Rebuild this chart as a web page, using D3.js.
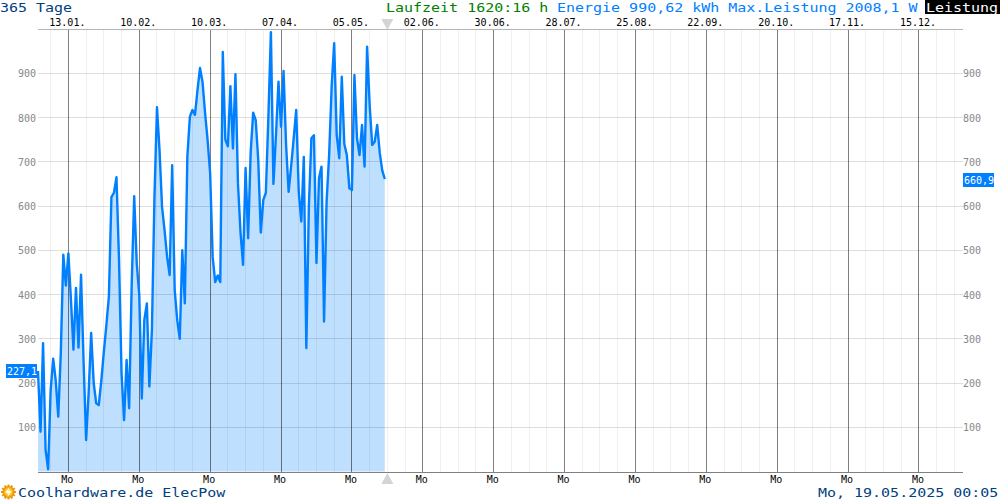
<!DOCTYPE html>
<html><head><meta charset="utf-8">
<script src="https://cdnjs.cloudflare.com/ajax/libs/d3/7.8.5/d3.min.js"></script>
<style>html,body{margin:0;padding:0;background:#fff}svg{display:block}text{font-family:"DejaVu Sans Mono",monospace}</style>
</head><body><svg id="c" width="1000" height="500"></svg>
<script>
const values=[227,90,290,49,5,184,255,206,124,267,490,420,493,390,275,415,280,445,250,71,177,313,200,154,150,205,270,330,395,
620,630,665,480,222,116,252,143,420,622,471,399,165,342,380,192,320,620,823,727,598,545,485,444,692,410,342,300,500,380,
712,802,817,806,862,912,880,810,749,674,485,428,443,428,948,750,735,871,730,898,650,540,467,686,527,720,811,794,704,540,
614,630,800,993,650,760,881,779,905,738,632,690,753,817,632,565,711,279,600,753,760,471,663,689,339,610,715,870,968,760,
708,892,740,715,640,636,896,753,715,783,689,960,830,738,745,783,720,680,661];
const topLabels=["13.01.","10.02.","10.03.","07.04.","05.05.","02.06.","30.06.","28.07.","25.08.","22.09.","20.10.","17.11.","15.12."];
const yTicks=[100,200,300,400,500,600,700,800,900];
const monDays=[12,40,68,96,124,152,180,208,236,264,292,320,348];
const weekDays=d3.range(52).map(i=>5+7*i);
const totalDays=365, nowDay=138;
const X0=38,X1=962,Y0=471.5,YTOP=29;
const x=d3.scaleLinear().domain([0,totalDays]).range([X0,X1]);
const y=d3.scaleLinear().domain([0,1000]).range([Y0,Y0-442.5]);
const px=v=>Math.floor(v)+.5;
const svg=d3.select("#c");
const g=svg.append("g");
const area=d3.area().x((d,i)=>x(i)).y0(Y0).y1(d=>y(d));
g.append("path").attr("d",area(values)).attr("fill","#0080ff").attr("fill-opacity",.25);
g.selectAll(".w").data(weekDays.filter(d=>!monDays.includes(d))).join("line")
 .attr("x1",d=>px(x(d))).attr("x2",d=>px(x(d))).attr("y1",YTOP).attr("y2",Y0)
 .attr("stroke","#000").attr("stroke-opacity",.06).attr("shape-rendering","crispEdges");
g.selectAll(".h").data(yTicks).join("line")
 .attr("x1",X0).attr("x2",X1+1).attr("y1",d=>px(y(d))).attr("y2",d=>px(y(d)))
 .attr("stroke","#000").attr("stroke-opacity",.13).attr("shape-rendering","crispEdges");
g.selectAll(".m").data(monDays).join("line")
 .attr("x1",d=>px(x(d))).attr("x2",d=>px(x(d))).attr("y1",YTOP).attr("y2",Y0)
 .attr("stroke","#000").attr("stroke-opacity",.5).attr("shape-rendering","crispEdges");
g.append("line").attr("x1",X0).attr("x2",X1+1).attr("y1",29.5).attr("y2",29.5).attr("stroke","#b4b4b4").attr("shape-rendering","crispEdges");
g.append("line").attr("x1",X0).attr("x2",X1+1).attr("y1",472.5).attr("y2",472.5).attr("stroke","#808080").attr("shape-rendering","crispEdges");
g.append("path").attr("d",d3.line().x((d,i)=>x(i)).y(d=>y(d))(values))
 .attr("fill","none").attr("stroke","#0080ff").attr("stroke-width",2.4).attr("stroke-linejoin","round");
const t=(s,xx,yy,size,fill,anchor)=>svg.append("text").text(s).attr("x",xx).attr("y",yy).attr("font-size",size).attr("fill",fill).attr("text-anchor",anchor||"start");
const big=(s,xx,yy,fill)=>svg.append("text").text(s).attr("transform",`translate(${xx},${yy}) scale(1.153,1)`).attr("font-size",13).attr("fill",fill);
monDays.forEach((d,i)=>{t(topLabels[i],x(d)-1,26,10,"#000","middle");t("Mo",x(d)-1,483,10,"#000","middle");});
yTicks.forEach(v=>{t(String(v),36,y(v)+4,10,"#888","end");t(String(v),963,y(v)+4,10,"#888");});
svg.append("path").attr("d",d3.line()([[x(nowDay)-6,19],[x(nowDay)+6,19],[x(nowDay),30]])).attr("fill","#d4d4d4");
svg.append("path").attr("d",d3.line()([[x(nowDay)-6,484],[x(nowDay)+6,484],[x(nowDay),473]])).attr("fill","#d4d4d4");
big("365 Tage",0,12.2,"#004080");
big("Laufzeit 1620:16 h",386,12.2,"#008000");
big("Energie 990,62 kWh Max.Leistung 2008,1 W",557,12.2,"#0080ff");
svg.append("rect").attr("x",925).attr("y",0).attr("width",75).attr("height",14).attr("fill","#000");
big("Leistung",926,12.2,"#fff");
svg.append("rect").attr("x",6).attr("y",364).attr("width",31).attr("height",14).attr("fill","#0080ff");
t("227,1",7,375,10,"#fff");
svg.append("rect").attr("x",963).attr("y",173).attr("width",31).attr("height",14).attr("fill","#0080ff");
t("660,9",964,184,10,"#fff");
const defs=svg.append("defs");
const rg=defs.append("radialGradient").attr("id","sun");
rg.append("stop").attr("offset","0%").attr("stop-color","#fff2a0");
rg.append("stop").attr("offset","60%").attr("stop-color","#ffc020");
rg.append("stop").attr("offset","100%").attr("stop-color","#e08800");
const ic=svg.append("g").attr("transform","translate(8.5,492)");
d3.range(12).forEach(i=>{const a=i*Math.PI/6;ic.append("line").attr("x1",0).attr("y1",0).attr("x2",7.5*Math.cos(a)).attr("y2",7.5*Math.sin(a)).attr("stroke","#e89a10").attr("stroke-width",2);});
ic.append("circle").attr("r",6).attr("fill","url(#sun)");
ic.append("path").attr("d","M1,-5L-3,1L0,1L-1,5L3,-1L0,-1Z").attr("fill","#fff");
big("Coolhardware.de ElecPow",18,496.8,"#004080");
big("Mo, 19.05.2025 00:05",818,496.8,"#004080");
</script></body></html>
